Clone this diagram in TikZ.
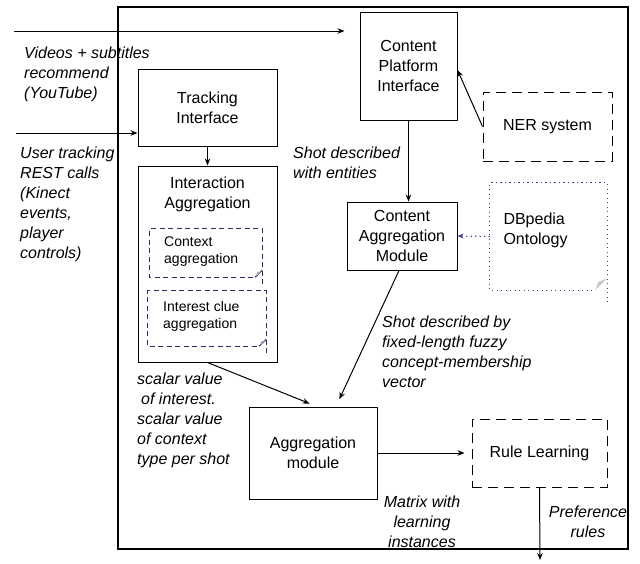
\documentclass[tikz,border=0pt]{standalone}
\usepackage{fontspec}
\setmainfont{Liberation Sans}
\usetikzlibrary{arrows.meta}
\definecolor{navy}{RGB}{48,40,100}
\definecolor{dbc}{RGB}{72,64,150}
\begin{document}
\begin{tikzpicture}[x=1pt,y=-1pt,
  box/.style={draw,line width=1pt,align=center,font=\fontsize{16}{20}\selectfont,inner sep=0pt},
  dbox/.style={box,dash pattern=on 10pt off 6pt},
  lbl/.style={font=\fontsize{16}{20}\selectfont\itshape,inner sep=0pt,align=left,anchor=north west},
  clbl/.style={font=\fontsize{16}{20}\selectfont\itshape,inner sep=0pt,align=center,anchor=north},
  small/.style={font=\fontsize{14}{17}\selectfont,inner sep=0pt,align=left,anchor=north west},
  note/.style={draw=none,inner sep=0pt},
  innerdash/.style={navy,line width=1pt,dash pattern=on 5pt off 3.5pt},
  dotline/.style={dbc,line width=1.2pt,dash pattern=on 1.2pt off 3.3pt},
  arr/.style={-{Stealth[length=7pt,width=5.5pt]},line width=1pt}]
\useasboundingbox (0,0) rectangle (640,563);

% frame
\node[box,line width=1.1pt,minimum width=510pt,minimum height=542pt] (frame) at (373,278) {};

% main boxes
\node[box,minimum width=97pt,minimum height=108pt] (cpi) at (408.5,66) {Content\\Platform\\Interface};
\node[box,minimum width=139pt,minimum height=77pt] (ti) at (207.5,107.5) {Tracking\\Interface};
\node[box,minimum width=139pt,minimum height=196pt] (ia) at (207.5,264) {};
\node[box,draw=none] (iat) at (207.5,194.5) {Interaction\\Aggregation};
\node[dbox,minimum width=129pt,minimum height=69pt] (ner) at (547.5,126.5) {NER system};
\node[box,minimum width=110pt,minimum height=68pt] (cam) at (402,236) {Content\\Aggregation\\Module};
\node[box,minimum width=128pt,minimum height=92pt] (agg) at (313,453) {Aggregation\\module};
\node[dbox,minimum width=135pt,minimum height=68pt] (rl) at (539.5,453) {Rule Learning};

% note-like boxes
\node[note,minimum width=112pt,minimum height=48pt] (ctx) at (206,253) {};
\draw[innerdash] (ctx.south east) ++(0,7) -- (ctx.north east) -- (ctx.north west) -- (ctx.south west) -- ([xshift=-7pt]ctx.south east);
\draw[navy,line width=1pt] ([xshift=-7pt]ctx.south east) -- ([yshift=7pt]ctx.south east);
\fill[gray!60] ([xshift=-6pt,yshift=1pt]ctx.south east) -- ([xshift=-1pt,yshift=6pt]ctx.south east) -- ([xshift=-5pt,yshift=5pt]ctx.south east) -- cycle;
\node[small] (ctxt) at (164,237) {Context\\aggregation};

\node[note,minimum width=118pt,minimum height=55pt] (icl) at (207,318.5) {};
\draw[innerdash] (icl.south east) ++(0,7) -- (icl.north east) -- (icl.north west) -- (icl.south west) -- ([xshift=-7pt]icl.south east);
\draw[navy,line width=1pt] ([xshift=-7pt]icl.south east) -- ([yshift=7pt]icl.south east);
\fill[gray!60] ([xshift=-6pt,yshift=1pt]icl.south east) -- ([xshift=-1pt,yshift=6pt]icl.south east) -- ([xshift=-5pt,yshift=5pt]icl.south east) -- cycle;
\node[small] (iclt) at (163,301) {Interest clue\\aggregation};

\node[note,minimum width=117pt,minimum height=107pt] (dbp) at (548.5,236.5) {};
\draw[dotline] (dbp.south east) ++(0,12) -- (dbp.north east) -- (dbp.north west) -- (dbp.south west) -- ([xshift=-12pt]dbp.south east);
\fill[gray!45] ([xshift=-12pt]dbp.south east) -- ([yshift=12pt]dbp.south east) -- ([xshift=-9pt,yshift=8pt]dbp.south east) -- cycle;
\node[box,draw=none,align=left,anchor=north west] (dbpt) at (503,212) {DBpedia\\Ontology};

% input coordinates
\coordinate (in1) at (14,31);
\coordinate (in2) at (16,133);
\coordinate (out) at (540,560);

% connectors
\draw[arr,shorten >=15pt] (in1) -- (cpi.west |- in1);
\draw[arr] (in2) -- (ti.west |- in2);
\draw[arr] (ti.south) -- (ia.north);
\draw[arr] (ner.west) -- ([yshift=-4pt]cpi.east);
\draw[arr] (cpi.south) -- (cpi.south |- cam.north);
\draw[arr,dotline,-{Stealth[length=6pt,width=5pt]}] (dbp.west) -- (cam.east);
\draw[arr,shorten >=8pt] ([xshift=-3pt]cam.south) -- ([xshift=23pt]agg.north);
\draw[arr,shorten >=8pt] (ia.south) -- ([xshift=4pt]agg.north);
\draw[arr,shorten >=7pt] (agg.east) -- (rl.west);
\draw[arr] (rl.south) -- (out);

% labels
\node[lbl] (l1) at (24,47) {Videos + subtitles\\recommend\\(YouTube)};
\node[lbl] (l2) at (20,147) {User tracking\\REST calls\\(Kinect\\events,\\player\\controls)};
\node[lbl] (l3) at (293,147) {Shot described\\with entities};
\node[lbl] (l4) at (382,316) {Shot described by\\fixed-length fuzzy\\concept-membership\\vector};
\node[lbl] (l5) at (137,373) {scalar value\\\hspace{4pt}of interest.\\scalar value\\of context\\type per shot};
\node[clbl] (l6) at (422,496) {Matrix with\\learning\\instances};
\node[clbl] (l7) at (588,506) {Preference\\rules};
\end{tikzpicture}
\end{document}
